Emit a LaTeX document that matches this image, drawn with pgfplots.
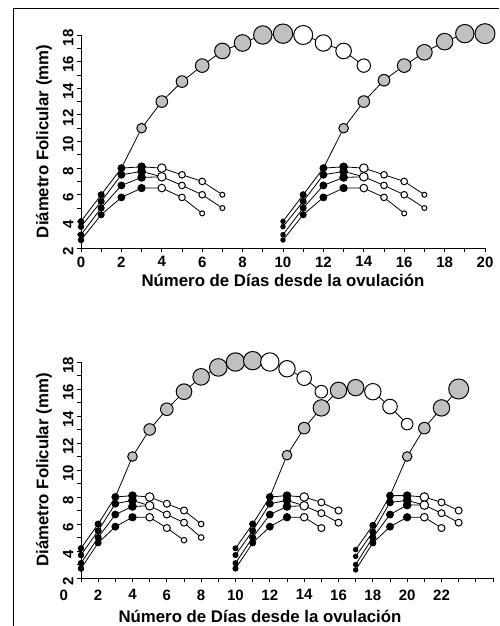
\documentclass[border=0pt]{standalone}
\usepackage{pgfplots}
\pgfplotsset{compat=1.18}
\usepackage{fontspec}
\setmainfont{Liberation Sans}
\definecolor{folgray}{RGB}{192,192,192}
\pgfplotsset{
  fol/.style={
    scale only axis, axis x line*=bottom, axis y line*=left,
    ymin=2, ymax=18, ytick={2,4,...,18}, minor ytick={3,5,...,17},
    tick align=outside, major tick length=4pt, minor tick length=4pt,
    every tick/.style={black, line width=0.8pt},
    axis line style={line width=0.8pt},
    tick label style={font=\bfseries\fontsize{15}{15}\selectfont},
    /pgf/number format/assume math mode=true,
    yticklabel style={rotate=90, anchor=south, xshift=-3pt},
    label style={font=\bfseries\fontsize{16.8}{17}\selectfont},
    ylabel={Diámetro Folicular (mm)}, ylabel shift=4pt,
    xlabel={Número de Días desde la ovulación},
    clip=false,
  },
  ln/.style={black, line width=0.8pt, no marks},
  dots/.style={scatter, only marks, mark=*, line width=1pt,
    point meta=\thisrow{r},
    scatter/use mapped color={draw=black, fill=#1},
    visualization depends on={\thisrow{r} \as \rr},
    scatter/@pre marker code/.append style={/tikz/mark size=\rr}},
}
\begin{document}
\begin{tikzpicture}
\useasboundingbox (0,0) rectangle (499pt,626pt);
\draw[line width=1pt] (13pt,0) -- (13pt,617pt) -- (499pt,617pt);

% ---------- top panel ----------
\begin{axis}[fol, at={(81pt,378pt)}, anchor=south west,
  width=404pt, height=213pt, xmin=0, xmax=20,
  xtick={0,2,...,20}, minor xtick={1,3,...,19},
  xticklabel style={yshift=-1pt}]
% wave 1
\addplot[ln] coordinates {(0,4.0)(1,6.0)(2,8.0)(3,11.0)(4,13.0)(5,14.5)(6,15.7)(7,16.8)(8,17.4)(9,18.0)(10,18.1)(11,18.0)(12,17.4)(13,16.8)(14,15.7)};
\addplot[ln] coordinates {(2,8.0)(3,8.1)(4,8.0)(5,7.5)(6,7.0)(7,6.0)};
\addplot[ln] coordinates {(0,3.6)(1,5.5)(2,7.5)(3,7.75)(4,7.35)(5,6.7)(6,6.0)(7,5.0)};
\addplot[ln] coordinates {(0,3.0)(1,5.0)(2,6.7)(3,7.3)(4,7.35)};
\addplot[ln] coordinates {(0,2.6)(1,4.5)(2,5.8)(3,6.5)(4,6.5)(5,5.8)(6,4.6)};
% wave 2
\addplot[ln] coordinates {(10,4.0)(11,6.0)(12,8.0)(13,11.0)(14,13.0)(15,14.6)(16,15.7)(17,16.7)(18,17.5)(19,18.1)(20,18.1)};
\addplot[ln] coordinates {(12,8.0)(13,8.1)(14,8.0)(15,7.5)(16,7.0)(17,6.0)};
\addplot[ln] coordinates {(10,3.6)(11,5.5)(12,7.5)(13,7.75)(14,7.35)(15,6.7)(16,6.0)(17,5.0)};
\addplot[ln] coordinates {(10,3.0)(11,5.0)(12,6.7)(13,7.3)(14,7.35)};
\addplot[ln] coordinates {(10,2.6)(11,4.5)(12,5.8)(13,6.5)(14,6.5)(15,5.8)(16,4.6)};
% markers
\addplot[dots=black] table[row sep=\\] {
x y r\\
0 4.0 2.7\\ 0 3.6 2.7\\ 0 3.0 2.7\\ 0 2.6 2.7\\
1 6.0 3.0\\ 1 5.5 3.0\\ 1 5.0 3.0\\ 1 4.5 3.0\\
2 8.0 3.4\\ 2 7.5 3.4\\ 2 6.7 3.4\\ 2 5.8 3.4\\
3 8.1 3.8\\ 3 7.75 3.8\\ 3 7.3 3.8\\ 3 6.5 3.6\\
10 4.0 2.2\\ 10 3.6 2.2\\ 10 3.0 2.2\\ 10 2.6 2.2\\
11 6.0 3.0\\ 11 5.5 3.0\\ 11 5.0 3.0\\ 11 4.5 3.0\\
12 8.0 3.4\\ 12 7.5 3.4\\ 12 6.7 3.4\\ 12 5.8 3.4\\
13 8.1 3.8\\ 13 7.75 3.8\\ 13 7.3 3.8\\ 13 6.5 3.6\\
};
\addplot[dots=folgray] table[row sep=\\] {
x y r\\
3 11.0 4.8\\ 4 13.0 5.8\\ 5 14.5 5.8\\ 6 15.7 6.8\\ 7 16.8 7.8\\ 8 17.4 8.3\\ 9 18.0 9.2\\ 10 18.1 9.7\\
13 11.0 4.8\\ 14 13.0 5.8\\ 15 14.6 5.8\\ 16 15.7 6.8\\ 17 16.7 7.8\\ 18 17.5 8.3\\ 19 18.1 9.2\\ 20 18.1 10\\
};
\addplot[dots=white] table[row sep=\\] {
x y r\\
4 8.0 4.3\\ 4 7.35 4.3\\ 4 6.5 3.8\\
5 7.5 3.3\\ 5 6.7 3.3\\ 5 5.8 3.3\\
6 7.0 3.3\\ 6 6.0 3.3\\ 6 4.6 2.5\\
7 6.0 2.5\\ 7 5.0 2.5\\
11 18.0 9.5\\ 12 17.4 8.2\\ 13 16.8 7.8\\ 14 15.7 6.7\\
14 8.0 4.3\\ 14 7.35 4.3\\ 14 6.5 3.8\\
15 7.5 3.3\\ 15 6.7 3.3\\ 15 5.8 3.3\\
16 7.0 3.3\\ 16 6.0 3.3\\ 16 4.6 2.5\\
17 6.0 2.5\\ 17 5.0 2.5\\
};
\end{axis}

% ---------- bottom panel ----------
\begin{axis}[fol, at={(81pt,48pt)}, anchor=south west,
  width=412pt, height=216pt, xmin=1, xmax=25,
  xtick={2,4,...,22}, minor xtick={1,3,...,23,24,25},
  xticklabel style={yshift=-4pt},
  xlabel style={xshift=-27pt, yshift=-3pt}]
\node[anchor=north, font=\bfseries\fontsize{15}{15}\selectfont, yshift=-8pt] at (axis cs:0,2) {0};
% wave 1
\addplot[ln] coordinates {(1,4.2)(2,6.0)(3,8.0)(4,11.0)(5,13.0)(6,14.5)(7,15.8)(8,16.9)(9,17.6)(10,18.0)(11,18.1)(12,18.0)(13,17.5)(14,16.8)(15,15.8)};
\addplot[ln] coordinates {(3,8.0)(4,8.1)(5,8.0)(6,7.5)(7,7.0)(8,6.0)};
\addplot[ln] coordinates {(1,3.7)(2,5.5)(3,7.5)(4,7.75)(5,7.35)(6,6.7)(7,6.1)(8,5.0)};
\addplot[ln] coordinates {(1,3.1)(2,5.0)(3,6.7)(4,7.3)(5,7.35)};
\addplot[ln] coordinates {(1,2.7)(2,4.6)(3,5.8)(4,6.5)(5,6.5)(6,5.7)(7,4.8)};
% wave 2
\addplot[ln] coordinates {(10,4.2)(11,6.0)(12,8.0)(13,11.1)(14,13.1)(15,14.6)(16,15.9)(17,16.1)(18,15.8)(19,14.7)(20,13.4)};
\addplot[ln] coordinates {(12,8.0)(13,8.1)(14,8.0)(15,7.6)(16,7.0)};
\addplot[ln] coordinates {(10,3.7)(11,5.5)(12,7.5)(13,7.75)(14,7.35)(15,6.8)(16,6.1)};
\addplot[ln] coordinates {(10,3.1)(11,5.0)(12,6.7)(13,7.3)(14,7.35)};
\addplot[ln] coordinates {(10,2.7)(11,4.6)(12,5.8)(13,6.5)(14,6.5)(15,5.7)};
% wave 3
\addplot[ln] coordinates {(17,4.1)(18,5.9)(19,8.1)(20,11.0)(21,13.1)(22,14.6)(23,16.0)};
\addplot[ln] coordinates {(19,8.1)(20,8.1)(21,8.0)(22,7.6)(23,7.0)};
\addplot[ln] coordinates {(17,3.6)(18,5.4)(19,7.6)(20,7.75)(21,7.4)(22,6.8)(23,6.1)};
\addplot[ln] coordinates {(17,3.0)(18,5.0)(19,6.7)(20,7.4)(21,7.4)};
\addplot[ln] coordinates {(17,2.6)(18,4.6)(19,5.8)(20,6.5)(21,6.5)(22,5.7)};
% markers
\addplot[dots=black] table[row sep=\\] {
x y r\\
1 4.2 2.7\\ 1 3.7 2.7\\ 1 3.1 2.7\\ 1 2.7 2.7\\
2 6.0 3.0\\ 2 5.5 3.0\\ 2 5.0 3.0\\ 2 4.6 3.0\\
3 8.0 3.4\\ 3 7.5 3.4\\ 3 6.7 3.4\\ 3 5.8 3.4\\
4 8.1 3.8\\ 4 7.75 3.8\\ 4 7.3 3.8\\ 4 6.5 3.6\\
10 4.2 2.5\\ 10 3.7 2.5\\ 10 3.1 2.5\\ 10 2.7 2.5\\
11 6.0 3.0\\ 11 5.5 3.0\\ 11 5.0 3.0\\ 11 4.6 3.0\\
12 8.0 3.4\\ 12 7.5 3.4\\ 12 6.7 3.4\\ 12 5.8 3.4\\
13 8.1 3.8\\ 13 7.75 3.8\\ 13 7.3 3.8\\ 13 6.5 3.6\\
17 4.1 2.2\\ 17 3.6 2.2\\ 17 3.0 2.2\\ 17 2.6 2.2\\
18 5.9 3.0\\ 18 5.4 3.0\\ 18 5.0 3.0\\ 18 4.6 3.0\\
19 8.1 3.4\\ 19 7.6 3.4\\ 19 6.7 3.4\\ 19 5.8 3.4\\
20 8.1 3.8\\ 20 7.75 3.8\\ 20 7.4 3.8\\ 20 6.5 3.6\\
};
\addplot[dots=folgray] table[row sep=\\] {
x y r\\
4 11.0 4.8\\ 5 13.0 5.8\\ 6 14.5 6.3\\ 7 15.8 7.8\\ 8 16.9 8.3\\ 9 17.6 8.8\\ 10 18.0 9.2\\ 11 18.1 9.2\\
13 11.1 4.8\\ 14 13.1 5.8\\ 15 14.6 8.2\\ 16 15.9 8.2\\ 17 16.1 8.2\\
20 11.0 4.8\\ 21 13.1 5.8\\ 22 14.6 8.2\\ 23 16.0 10\\
};
\addplot[dots=white] table[row sep=\\] {
x y r\\
5 8.0 4.3\\ 5 7.35 4.3\\ 5 6.5 3.8\\
6 7.5 3.5\\ 6 6.7 3.5\\ 6 5.7 3.5\\
7 7.0 3.5\\ 7 6.1 3.5\\ 7 4.8 2.8\\
8 6.0 2.8\\ 8 5.0 2.8\\
12 18.0 9.2\\ 13 17.5 8.2\\ 14 16.8 7.3\\ 15 15.8 6.3\\
18 15.8 8.2\\ 19 14.7 7.3\\ 20 13.4 5.8\\
14 8.0 4.3\\ 14 7.35 4.3\\ 14 6.5 3.8\\
15 7.6 3.5\\ 15 6.8 3.5\\ 15 5.7 3.5\\
16 7.0 3.5\\ 16 6.1 3.5\\
21 8.0 4.3\\ 21 7.4 4.3\\ 21 6.5 3.8\\
22 7.6 3.5\\ 22 6.8 3.5\\ 22 5.7 3.5\\
23 7.0 3.5\\ 23 6.1 3.5\\
};
\end{axis}
\end{tikzpicture}
\end{document}
